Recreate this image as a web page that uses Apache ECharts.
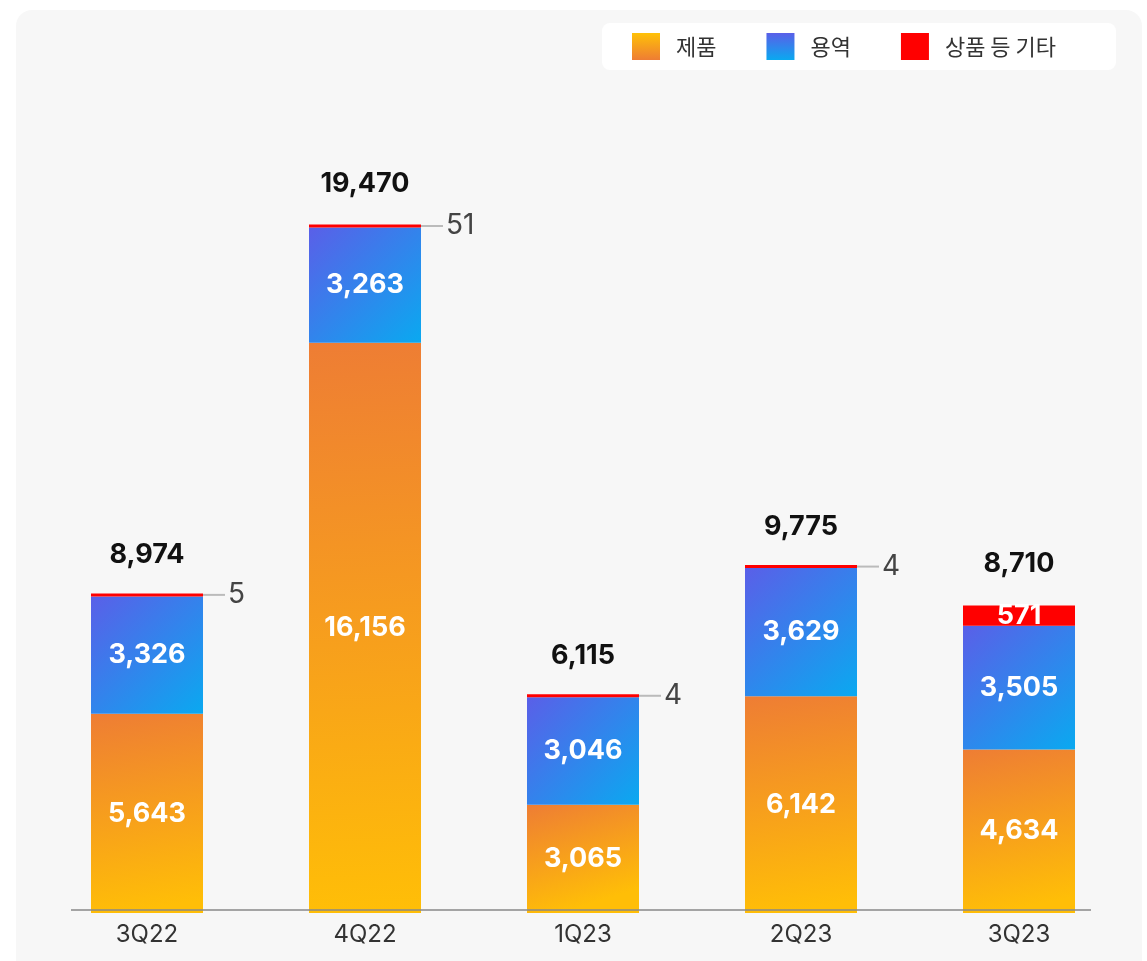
<!DOCTYPE html>
<html>
<head>
<meta charset="utf-8">
<title>분기별 매출 구성</title>
<script src="https://cdn.jsdelivr.net/npm/echarts@6/dist/echarts.min.js"></script>
<style>
  html, body { margin: 0; padding: 0; background: #ffffff; }
  #chart { width: 1147px; height: 961px; }
</style>
</head>
<body>
<div id="chart"></div>
<script>
  // 분기
  var quarters = ['3Q22', '4Q22', '1Q23', '2Q23', '3Q23'];
  // 제품
  var productValues = [5643, 16156, 3065, 6142, 4634];
  // 용역
  var serviceValues = [3326, 3263, 3046, 3629, 3505];
  // 상품 등 기타
  var otherValues = [5, 51, 4, 4, 571];

  var totals = quarters.map(function (q, i) {
    return productValues[i] + serviceValues[i] + otherValues[i];
  });

  var numFont = 'Inter, "Noto Sans CJK KR", sans-serif';
  var fmt = function (v) { return Number(v).toLocaleString('en-US'); };

  var insideLabel = {
    show: true,
    position: 'inside',
    color: '#fff',
    fontSize: 27,
    fontWeight: 'bold',
    fontFamily: numFont,
    formatter: function (p) { return fmt(p.value); }
  };

  // 작은 값은 옆에 선과 함께 표시
  var otherData = otherValues.map(function (v) {
    if (v >= 100) {
      return { value: v, label: insideLabel };
    }
    return {
      value: v,
      label: {
        show: true,
        position: 'right',
        distance: 0,
        formatter: '{l| }{v|' + fmt(v) + '}',
        rich: {
          l: { width: 22, height: 2, backgroundColor: '#bbbbbb', verticalAlign: 'middle' },
          v: { fontSize: 28, color: '#444', fontFamily: numFont, padding: [0, 0, 0, 3], verticalAlign: 'middle' }
        }
      }
    };
  });

  var orangeGrad = new echarts.graphic.LinearGradient(0, 0, 0.3, 1, [
    { offset: 0, color: '#EE7D34' },
    { offset: 1, color: '#FFBE07' }
  ]);
  var blueGrad = new echarts.graphic.LinearGradient(0, 0, 1, 1, [
    { offset: 0, color: '#5A5FE8' },
    { offset: 1, color: '#0AA9F0' }
  ]);

  var chart = echarts.init(document.getElementById('chart'));
  chart.setOption({
    backgroundColor: '#ffffff',
    animation: false,
    graphic: [
      {
        type: 'rect',
        z: -100,
        silent: true,
        shape: { x: 16, y: 10, width: 1126, height: 1000, r: 16 },
        style: { fill: '#F7F7F7' }
      },
      {
        type: 'line',
        z: 100,
        silent: true,
        shape: { x1: 71, y1: 910, x2: 1091, y2: 910 },
        style: { stroke: '#888888', lineWidth: 1.5 }
      }
    ],
    legend: {
      right: 31,
      top: 23,
      padding: [10, 60, 10, 30],
      backgroundColor: '#ffffff',
      borderRadius: 8,
      itemWidth: 28,
      itemHeight: 27,
      itemGap: 50,
      icon: 'rect',
      textStyle: {
        fontSize: 22,
        color: '#333',
        fontFamily: '"Noto Sans CJK KR", sans-serif',
        padding: [0, 0, 0, 11]
      },
      data: [
        {
          name: '제품',
          itemStyle: {
            color: new echarts.graphic.LinearGradient(0, 0, 0, 1, [
              { offset: 0, color: '#FFC107' },
              { offset: 1, color: '#EE7D34' }
            ])
          }
        },
        {
          name: '용역',
          itemStyle: {
            color: new echarts.graphic.LinearGradient(0, 0, 0, 1, [
              { offset: 0, color: '#5A5FE8' },
              { offset: 1, color: '#0AA9F0' }
            ])
          }
        },
        { name: '상품 등 기타', itemStyle: { color: '#FF0000' } }
      ]
    },
    grid: { left: 38, right: 19, top: 207, bottom: 48 },
    xAxis: {
      type: 'category',
      data: quarters,
      axisLine: { show: false },
      axisTick: { show: false },
      axisLabel: {
        margin: 10,
        fontSize: 24,
        color: '#333',
        fontFamily: numFont
      }
    },
    yAxis: {
      type: 'value',
      min: 0,
      max: 20000,
      show: false,
      splitLine: { show: false }
    },
    series: [
      {
        name: '제품',
        type: 'bar',
        stack: 'total',
        barWidth: 112,
        itemStyle: { color: orangeGrad },
        label: insideLabel,
        data: productValues
      },
      {
        name: '용역',
        type: 'bar',
        stack: 'total',
        barWidth: 112,
        itemStyle: { color: blueGrad },
        label: insideLabel,
        data: serviceValues
      },
      {
        name: '상품 등 기타',
        type: 'bar',
        stack: 'total',
        barWidth: 112,
        barMinHeight: 3,
        itemStyle: { color: '#FF0000' },
        data: otherData
      },
      {
        name: '합계',
        type: 'bar',
        stack: 'total',
        barWidth: 112,
        itemStyle: { color: 'transparent' },
        label: {
          show: true,
          position: 'top',
          distance: 28,
          color: '#111',
          fontSize: 27,
          fontWeight: 'bold',
          fontFamily: numFont,
          formatter: function (p) { return fmt(totals[p.dataIndex]); }
        },
        data: quarters.map(function () { return 0; })
      }
    ]
  });
</script>
</body>
</html>
